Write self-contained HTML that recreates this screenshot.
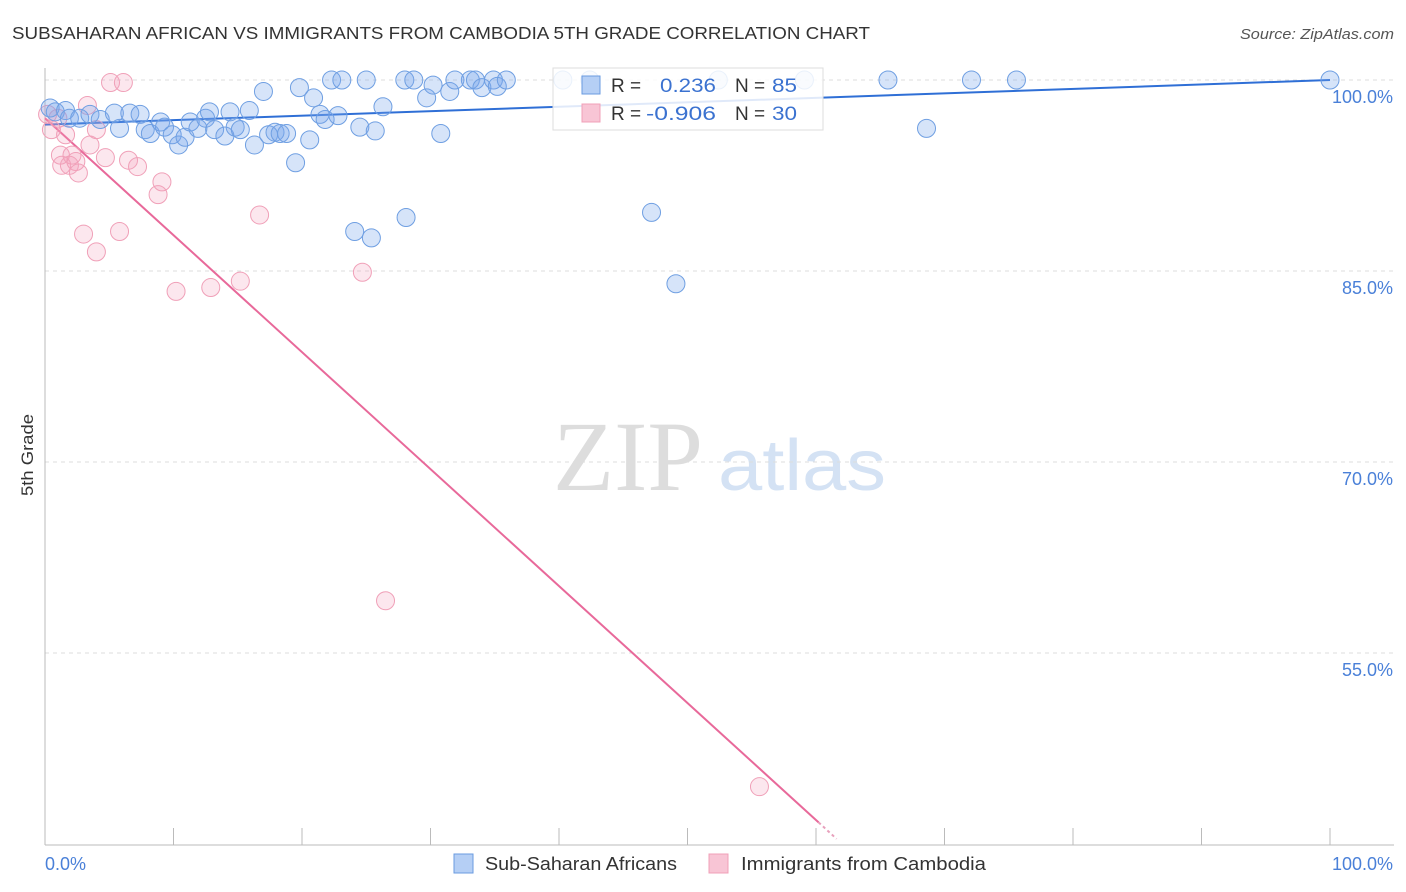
<!DOCTYPE html>
<html><head><meta charset="utf-8"><style>
body{margin:0;background:#fff;font-family:"Liberation Sans",sans-serif;}
</style></head><body>
<svg id="chart" width="1406" height="892" xmlns="http://www.w3.org/2000/svg" style="display:block">
<text x="12" y="39" font-size="17.5" fill="#333" textLength="858" lengthAdjust="spacingAndGlyphs">SUBSAHARAN AFRICAN VS IMMIGRANTS FROM CAMBODIA 5TH GRADE CORRELATION CHART</text>
<text x="1240" y="39" font-size="15" fill="#555" font-style="italic" textLength="154" lengthAdjust="spacingAndGlyphs">Source: ZipAtlas.com</text>
<text transform="translate(33,455) rotate(-90)" font-size="17" fill="#333" text-anchor="middle" textLength="82" lengthAdjust="spacingAndGlyphs">5th Grade</text>
<g>
<text x="553" y="490" font-family="Liberation Serif,serif" font-size="100" fill="#ddd">ZIP</text>
<text x="718" y="490" font-size="72" fill="#d4e2f4" textLength="168" lengthAdjust="spacingAndGlyphs">atlas</text>
</g>
<g id="grid"></g><g id="axes"></g><g id="lines"></g><g id="pts"></g>
<g>
<rect x="553" y="68" width="270" height="62" fill="#fff" fill-opacity="0.85" stroke="#ddd"/>
<rect x="582" y="76" width="18" height="18" fill="#b5cff5" stroke="#6a9be0"/>
<text x="611" y="92" font-size="19" fill="#333">R =</text>
<text x="660" y="92" font-size="19" fill="#3b72d0" textLength="56" lengthAdjust="spacingAndGlyphs">0.236</text>
<text x="735" y="92" font-size="19" fill="#333">N =</text>
<text x="772" y="92" font-size="19" fill="#3b72d0" textLength="25" lengthAdjust="spacingAndGlyphs">85</text>
<rect x="582" y="104" width="18" height="18" fill="#f8c5d5" stroke="#f0a0b8"/>
<text x="611" y="120" font-size="19" fill="#333">R =</text>
<text x="646" y="120" font-size="19" fill="#3b72d0" textLength="70" lengthAdjust="spacingAndGlyphs">-0.906</text>
<text x="735" y="120" font-size="19" fill="#333">N =</text>
<text x="772" y="120" font-size="19" fill="#3b72d0" textLength="25" lengthAdjust="spacingAndGlyphs">30</text>
</g>
<g>
<rect x="454" y="854" width="19" height="19" fill="#b5cff5" stroke="#6a9be0"/>
<text x="485" y="870" font-size="18" fill="#333" textLength="192" lengthAdjust="spacingAndGlyphs">Sub-Saharan Africans</text>
<rect x="709" y="854" width="19" height="19" fill="#f8c5d5" stroke="#f0a0b8"/>
<text x="741" y="870" font-size="18" fill="#333" textLength="245" lengthAdjust="spacingAndGlyphs">Immigrants from Cambodia</text>
</g>
</svg>
<script>
const yTicks=[100,85,70,55];
const yTickLabels=["100.0%","85.0%","70.0%","55.0%"];
const xEndLabels=["0.0%","100.0%"];
const blueX=[0.4,0.8,1.6,1.9,2.7,3.5,4.3,5.4,5.8,6.6,7.4,7.8,8.2,9.0,9.3,9.9,10.4,10.9,11.3,11.9,12.5,12.8,13.2,14.0,14.4,14.8,15.2,15.9,16.3,17.0,17.4,17.9,18.3,18.8,19.5,19.8,20.6,20.9,21.4,21.8,22.3,22.8,23.1,24.1,24.5,25.0,25.4,25.7,26.3,28.0,28.1,28.7,29.7,30.2,30.8,31.5,31.9,33.1,33.5,34.0,34.9,35.2,35.9,40.3,42.4,47.2,49.1,52.4,59.1,65.6,68.6,72.1,75.6,100];
const blueY=[97.8,97.5,97.6,97.0,97.0,97.3,96.9,97.4,96.2,97.4,97.3,96.1,95.8,96.7,96.3,95.7,94.9,95.5,96.7,96.2,97.0,97.5,96.1,95.6,97.5,96.3,96.1,97.6,94.9,99.1,95.7,95.9,95.8,95.8,93.5,99.4,95.3,98.6,97.3,96.9,100,97.2,100,88.1,96.3,100,87.6,96.0,97.9,100,89.2,100,98.6,99.6,95.8,99.1,100,100,100,99.4,100,99.5,100,100,100,89.6,84.0,100,100,100,96.2,100,100,100];
const pinkX=[0.2,0.5,1.0,1.2,1.6,1.3,1.9,2.1,2.4,2.6,3.0,3.3,3.5,4.0,4.0,4.7,5.1,5.8,6.1,6.5,7.2,8.8,9.1,10.2,12.9,15.2,16.7,24.7,26.5,55.6];
const pinkY=[97.3,96.1,97.0,94.1,95.7,93.3,93.3,94.1,93.6,92.7,87.9,98.0,94.9,96.1,86.5,93.9,99.8,88.1,99.8,93.7,93.2,91.0,92.0,83.4,83.7,84.2,89.4,84.9,59.1,44.5];
const blueTrend=[[0,96.5],[100,100]];
const pinkTrend=[[0,97.0],[60.2,41.7]];
const pinkTrendDash=[[60.2,41.7],[61.6,40.4]];
const NS="http://www.w3.org/2000/svg";
const X=v=>45+v*12.85, Y=v=>80+(100-v)*12.733;
function mk(tag,attrs,parent){const e=document.createElementNS(NS,tag);for(const k in attrs)e.setAttribute(k,attrs[k]);document.getElementById(parent).appendChild(e);return e;}
yTicks.forEach((t,i)=>{
 const g=mk('line',{x1:45,x2:1394,y1:Y(t),y2:Y(t),stroke:'#ddd','stroke-dasharray':'4,4'},'grid');
 
 
 const l=mk('text',{x:1393,y:Y(t)+23,'font-size':18,fill:'#4a80d8','text-anchor':'end'},'grid');
 l.textContent=yTickLabels[i];
 
 
});
const ax=mk('line',{x1:45,x2:45,y1:68,y2:845,stroke:'#bbb'},'axes');


const bx=mk('line',{x1:45,x2:1394,y1:845,y2:845,stroke:'#bbb'},'axes');


for(let i=0;i<=10;i++){
 const t=mk('line',{x1:X(i*10),x2:X(i*10),y1:828,y2:845,stroke:'#bbb'},'axes');
 
 
}
[[0,'start'],[100,'end']].forEach((p,i)=>{
 const t=mk('text',{x:p[0]?1393:45,y:870,'font-size':18,fill:'#4a80d8','text-anchor':p[1]},'axes');
 t.textContent=xEndLabels[i];
 
 
});
function line(d,col,name,dash){
 const l=mk('line',{x1:X(d[0][0]),y1:Y(d[0][1]),x2:X(d[1][0]),y2:Y(d[1][1]),stroke:col,'stroke-width':2,'stroke-dasharray':dash||'none'},'lines');
 
 
}
function pts(xs,ys,fill,stroke,name){
 xs.forEach((x,i)=>{
  const c=mk('circle',{cx:X(x),cy:Y(ys[i]),r:9,fill:fill,stroke:stroke,'stroke-width':1},'pts');
  
  
 });
}
pts(pinkX,pinkY,'rgba(244,160,188,0.25)','#f0a0b8','cambodia-point');
pts(blueX,blueY,'rgba(120,165,235,0.3)','#6f9fe2','subsaharan-point');
line(blueTrend,'#2f6fd6','subsaharan-trendline');
line(pinkTrend,'#e8699a','cambodia-trendline');
line(pinkTrendDash,'#e8a0bc','cambodia-trendline-extension','3,3');
</script>
</body></html>
